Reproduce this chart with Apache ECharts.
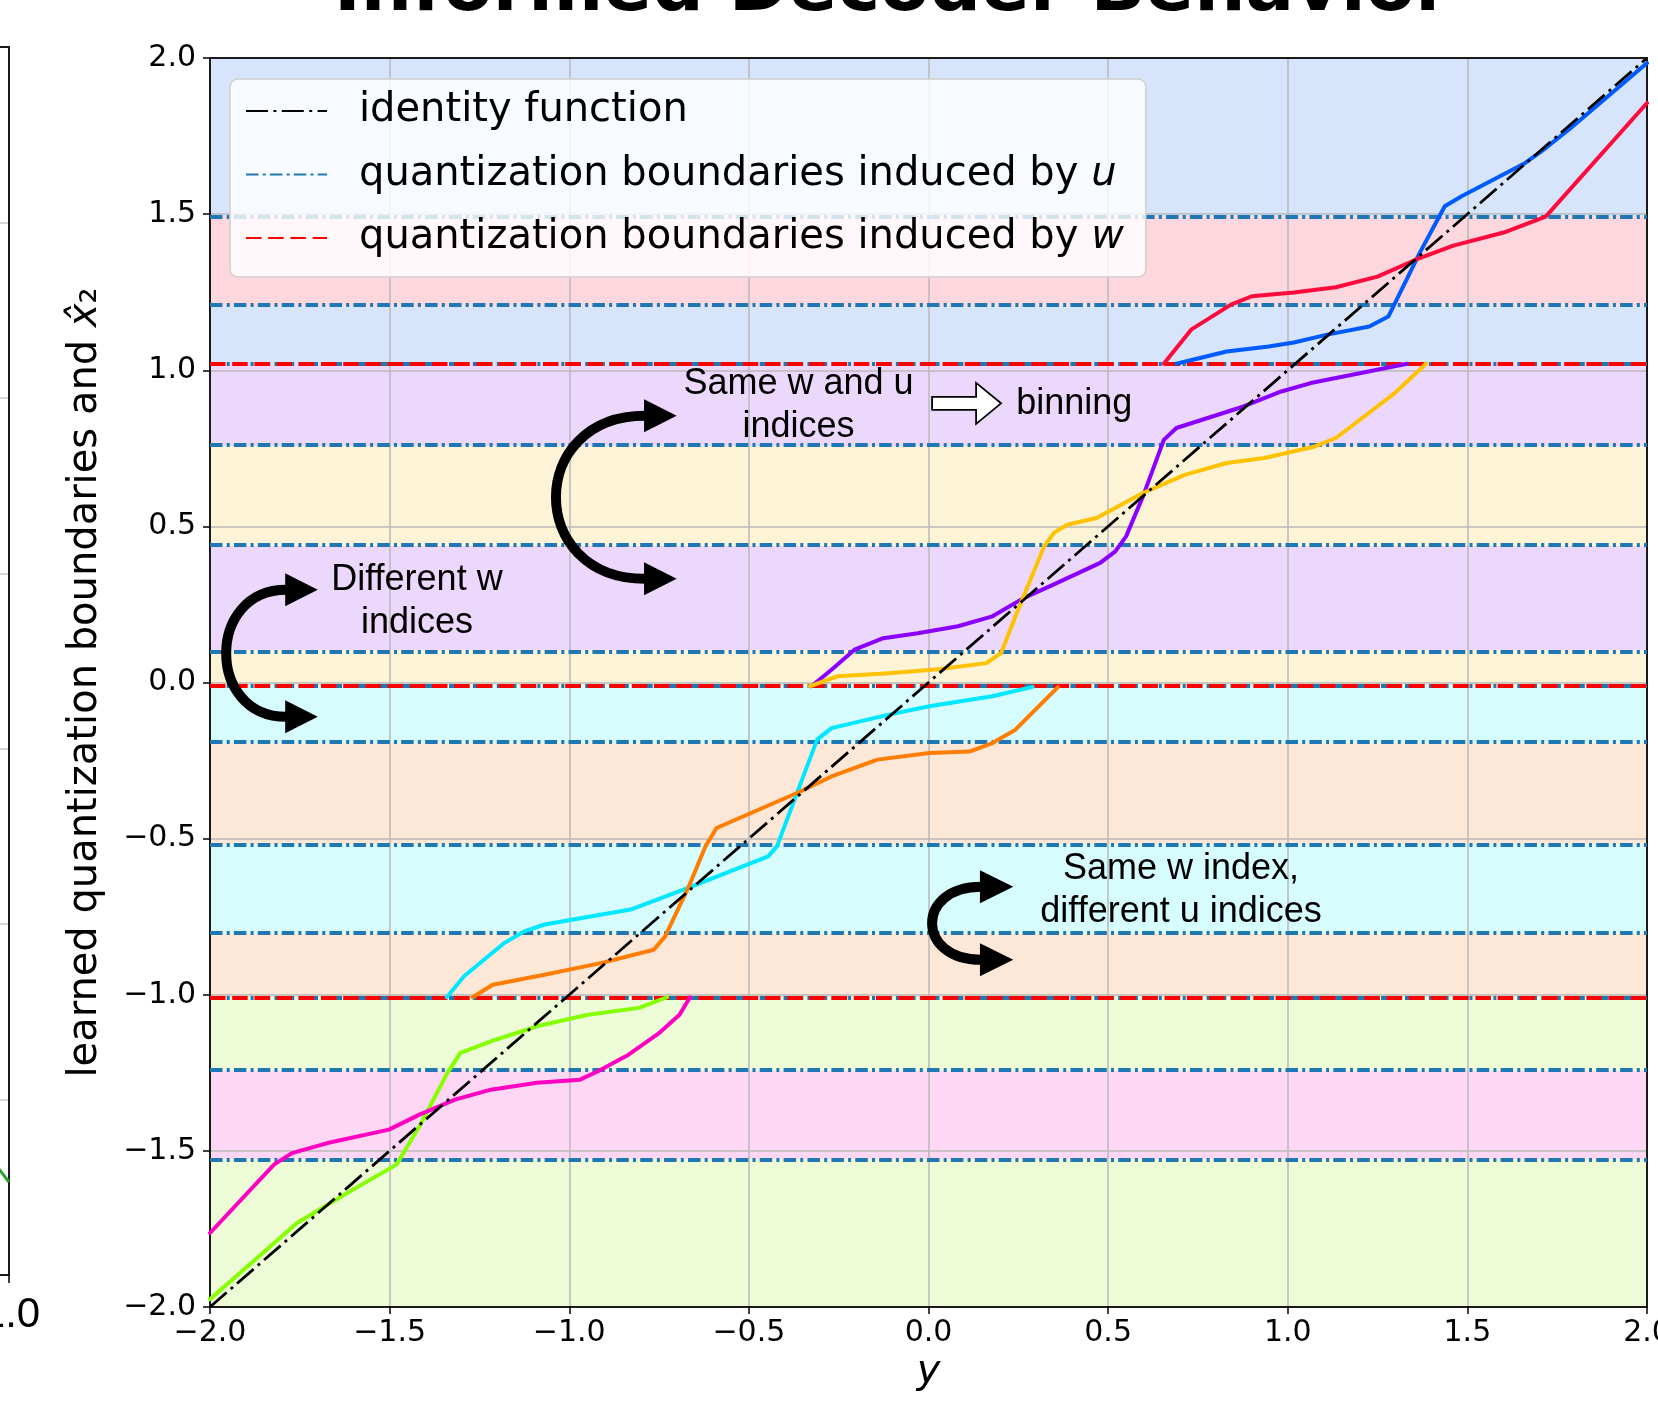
<!DOCTYPE html>
<html><head><meta charset="utf-8">
<script src="https://cdn.jsdelivr.net/npm/echarts@6/dist/echarts.min.js"></script>
<style>html,body{margin:0;padding:0;background:#fff}#c{width:1658px;height:1404px}</style>
</head><body><div id="c"></div>
<script>
// ---------------- data ----------------
const axisMin = -2, axisMax = 2, axisStep = 0.5;
const uBoundaries = [1.494, 1.205, 1.021, 0.756, 0.437, 0.103, -0.014, -0.194, -0.520, -0.803, -1.008, -1.243, -1.528];
const wBoundaries = [1.021, -0.014, -1.008];
const identityPts = [[-2, -2], [2, 2]];

const blueCurve = [[0.69,1.021],[0.83,1.06],[0.947,1.076],[1.017,1.089],[1.11,1.114],[1.227,1.14],[1.28,1.172],[1.367,1.375],[1.437,1.525],[1.484,1.557],[1.66,1.663],[1.706,1.701],[1.788,1.776],[2.0,1.984]];
const redCurve = [[0.655,1.021],[0.731,1.13],[0.842,1.21],[0.9,1.237],[1.017,1.249],[1.134,1.266],[1.25,1.3],[1.356,1.354],[1.461,1.399],[1.601,1.441],[1.718,1.492],[2.0,1.856]];
const purpleCurve = [[-0.326,-0.012],[-0.27,0.041],[-0.206,0.105],[-0.126,0.142],[-0.03,0.158],[0.082,0.18],[0.178,0.212],[0.266,0.271],[0.337,0.308],[0.478,0.383],[0.52,0.42],[0.55,0.468],[0.597,0.596],[0.655,0.777],[0.69,0.815],[0.877,0.884],[0.982,0.932],[1.064,0.959],[1.204,0.991],[1.332,1.021]];
const goldCurve = [[-0.33,-0.012],[-0.254,0.02],[-0.11,0.03],[0.034,0.043],[0.161,0.062],[0.202,0.094],[0.242,0.212],[0.322,0.436],[0.35,0.48],[0.386,0.505],[0.468,0.527],[0.597,0.607],[0.713,0.665],[0.83,0.703],[0.935,0.719],[1.076,0.756],[1.134,0.783],[1.298,0.927],[1.385,1.021]];
const cyanCurve = [[-1.341,-1.008],[-1.293,-0.941],[-1.181,-0.834],[-1.125,-0.797],[-1.069,-0.775],[-0.829,-0.727],[-0.669,-0.658],[-0.446,-0.557],[-0.422,-0.525],[-0.366,-0.354],[-0.31,-0.183],[-0.27,-0.146],[-0.11,-0.103],[0.002,-0.076],[0.178,-0.044],[0.29,-0.014]];
const orangeCurve = [[-1.269,-1.008],[-1.213,-0.968],[-1.069,-0.936],[-0.909,-0.898],[-0.765,-0.856],[-0.733,-0.813],[-0.669,-0.658],[-0.621,-0.525],[-0.59,-0.466],[-0.494,-0.418],[-0.366,-0.354],[-0.27,-0.301],[-0.142,-0.247],[0.002,-0.226],[0.114,-0.221],[0.178,-0.194],[0.242,-0.151],[0.361,-0.014]];
const limeCurve = [[-2.0,-1.975],[-1.758,-1.731],[-1.602,-1.624],[-1.481,-1.544],[-1.417,-1.421],[-1.339,-1.25],[-1.303,-1.186],[-1.218,-1.149],[-1.09,-1.101],[-0.948,-1.064],[-0.806,-1.042],[-0.728,-1.008]];
const magentaCurve = [[-2.0,-1.763],[-1.822,-1.544],[-1.772,-1.507],[-1.673,-1.475],[-1.502,-1.432],[-1.417,-1.384],[-1.318,-1.336],[-1.218,-1.304],[-1.09,-1.282],[-0.97,-1.272],[-0.92,-1.245],[-0.835,-1.192],[-0.749,-1.122],[-0.693,-1.064],[-0.664,-1.008]];

// partial neighbouring panel (cut off at the left edge)
const leftPanelGreen = [[0.98, 0.62], [1.0, 0.53]];

const titleText = 'Informed Decoder Behavior';
const legendNames = ['identity function', 'quantization boundaries induced by u', 'quantization boundaries induced by w'];

// ---------------- styles ----------------
const bandColors = ['#d6e4fc','#fdd7de','#d6e4fc','#ecd8fc','#fdf4d8','#ecd8fc','#fdf4d8','#d6fcfd','#fde8d8','#d6fcfd','#fde8d8','#edfcd6','#fdd7f3','#edfcd6'];
const curveDefs = [
  {d: blueCurve, c: '#005bff'}, {d: redCurve, c: '#ff0a3c'},
  {d: purpleCurve, c: '#8a00ff'}, {d: goldCurve, c: '#ffc200'},
  {d: cyanCurve, c: '#00e8ff'}, {d: orangeCurve, c: '#ff7d00'},
  {d: limeCurve, c: '#86ff00'}, {d: magentaCurve, c: '#ff00c3'}
];
const F = 'DejaVu Sans';
const A = 'Liberation Sans';
const spine = {show: true, onZero: false, lineStyle: {color: '#1a1a1a', width: 2}};
const gridLine = {show: true, lineStyle: {color: '#b8b8b8', width: 1.5}};
const fmt = v => (v < 0 ? '\u2212' : '') + Math.abs(v).toFixed(1);

const edges = [axisMax, ...uBoundaries, axisMin];
const bands = [];
for (let i = 0; i < edges.length - 1; i++) bands.push([edges[i + 1], edges[i]]);

const uStyle = {color: '#1f77b4', width: 3.8, type: [12.5, 4.2, 3, 4.2]};
const wStyle = {color: '#ff0000', width: 4, type: [15.5, 6.7]};
const idStyle = {color: '#000000', width: 2.8, type: [22, 5.4, 3, 5.4]};

const chart = echarts.init(document.getElementById('c'), null, {renderer: 'canvas'});
const option = {
  animation: false,
  backgroundColor: '#ffffff',
  title: {text: titleText, left: 329, top: -50, textStyle: {fontFamily: F, fontWeight: 'bold', fontSize: 72, color: '#000'}},
  grid: [
    {left: 210, right: 11, top: 58, bottom: 97, containLabel: false, outerBoundsMode: 'none'},
    {left: -600, right: 1649, top: 47, bottom: 129, containLabel: false, outerBoundsMode: 'none'}
  ],
  legend: {
    data: legendNames, orient: 'vertical', left: 230, top: 79, z: 10,
    itemWidth: 81, itemHeight: 20, itemGap: 15.5,
    padding: [8, 22, 15, 15],
    backgroundColor: 'rgba(255,255,255,0.8)', borderColor: '#d0d0d0', borderWidth: 1.5, borderRadius: 8,
    selectedMode: false,
    itemStyle: {opacity: 0, borderWidth: 0},
    formatter: n => {
      const last = n.slice(-1);
      if (n.startsWith('quantization')) return '{sp| }' + n.slice(0, -1) + '{i|' + last + '}';
      return '{sp| }' + n;
    },
    textStyle: {fontFamily: F, fontSize: 40, color: '#000', lineHeight: 48,
      rich: {sp: {width: 27, fontSize: 40, lineHeight: 48}, i: {fontFamily: F, fontStyle: 'italic', fontSize: 40, lineHeight: 48, color: '#000'}}}
  },
  xAxis: [
    {type: 'value', gridIndex: 0, min: axisMin, max: axisMax, interval: axisStep, z: 2,
     name: 'y', nameLocation: 'middle', nameGap: 43,
     nameTextStyle: {fontFamily: F, fontStyle: 'italic', fontSize: 40, color: '#000'},
     axisLine: spine, axisTick: {show: true, length: 7, lineStyle: {color: '#000', width: 1.5}},
     axisLabel: {show: true, formatter: fmt, fontFamily: F, fontSize: 30, color: '#000', margin: 11, showMinLabel: true, showMaxLabel: true},
     splitLine: gridLine},
    {type: 'value', gridIndex: 0, position: 'top', min: axisMin, max: axisMax, z: 2,
     axisLine: spine, axisTick: {show: false}, axisLabel: {show: false}, splitLine: {show: false}},
    {type: 'value', gridIndex: 1, min: 0, max: 1, interval: 0.5, z: 2,
     axisLine: spine, axisTick: {show: true, length: 8, lineStyle: {color: '#000', width: 1.5}},
     axisLabel: {show: true, formatter: v => v.toFixed(1), fontFamily: A, fontSize: 42, color: '#000', margin: 19, padding: [0, 0, 0, 4], showMaxLabel: true},
     splitLine: {show: false}},
    {type: 'value', gridIndex: 1, position: 'top', min: 0, max: 1, z: 2,
     axisLine: spine, axisTick: {show: false}, axisLabel: {show: false}, splitLine: {show: false}}
  ],
  yAxis: [
    {type: 'value', gridIndex: 0, min: axisMin, max: axisMax, interval: axisStep, z: 2,
     name: '{n|learned quantization boundaries and }{i|x\u0302}{n|\u2082}', nameLocation: 'middle', nameGap: 104, nameRotate: 90,
     nameTextStyle: {fontFamily: F, fontSize: 40, color: '#000',
       rich: {n: {fontFamily: F, fontSize: 40, color: '#000'}, i: {fontFamily: F, fontStyle: 'italic', fontSize: 40, color: '#000'}}},
     axisLine: spine, axisTick: {show: true, length: 7, lineStyle: {color: '#000', width: 1.5}},
     axisLabel: {show: true, formatter: fmt, fontFamily: F, fontSize: 30, color: '#000', margin: 14, showMinLabel: true, showMaxLabel: true},
     splitLine: gridLine},
    {type: 'value', gridIndex: 0, position: 'right', min: axisMin, max: axisMax, z: 2,
     axisLine: spine, axisTick: {show: false}, axisLabel: {show: false}, splitLine: {show: false}},
    {type: 'value', gridIndex: 1, position: 'right', min: 0, max: 7, interval: 1, z: 2,
     axisLine: spine, axisTick: {show: false}, axisLabel: {show: false},
     splitLine: {show: true, lineStyle: {color: '#c8c8c8', width: 1.5}}}
  ],
  series: [
    {type: 'custom', name: 'bands', xAxisIndex: 0, yAxisIndex: 0, z: 1, silent: true, clip: false,
     data: bands,
     renderItem: (params, api) => {
       const lo = api.value(0), hi = api.value(1);
       const p1 = api.coord([axisMin, hi]);
       const p2 = api.coord([axisMax, lo]);
       return {type: 'rect', shape: {x: p1[0], y: p1[1], width: p2[0] - p1[0], height: p2[1] - p1[1]},
               style: {fill: bandColors[params.dataIndex]}};
     }},
    {type: 'line', name: legendNames[0], xAxisIndex: 0, yAxisIndex: 0, z: 5, data: identityPts,
     symbol: 'none', showSymbol: false, lineStyle: idStyle, itemStyle: {color: '#000'}, silent: true},
    {type: 'line', name: legendNames[1], xAxisIndex: 0, yAxisIndex: 0, z: 3, data: [], symbol: 'none',
     lineStyle: uStyle, itemStyle: {color: '#1f77b4'},
     markLine: {z: 3, silent: true, symbol: ['none', 'none'], label: {show: false}, lineStyle: uStyle,
       emphasis: {disabled: true}, data: uBoundaries.map(v => ({yAxis: v}))}},
    {type: 'line', name: legendNames[2], xAxisIndex: 0, yAxisIndex: 0, z: 3, data: [], symbol: 'none',
     lineStyle: wStyle, itemStyle: {color: '#ff0000'},
     markLine: {z: 3, silent: true, symbol: ['none', 'none'], label: {show: false}, lineStyle: wStyle,
       emphasis: {disabled: true}, data: wBoundaries.map(v => ({yAxis: v}))}},
    ...curveDefs.map(cd => ({type: 'line', xAxisIndex: 0, yAxisIndex: 0, z: 4, data: cd.d, symbol: 'none', silent: true,
      lineStyle: {color: cd.c, width: 4, cap: 'round', join: 'round'}})),
    {type: 'line', xAxisIndex: 2, yAxisIndex: 2, z: 4, data: leftPanelGreen, symbol: 'none', silent: true,
     lineStyle: {color: '#2ca02c', width: 3}}
  ]
};
chart.setOption(option);

// ---------------- annotations (anchored in data coordinates) ----------------
const px = (x, y) => chart.convertToPixel({seriesIndex: 1}, [x, y]);
const notes = [
  {text: 'Same w and u\nindices', at: [-0.362, 0.886], align: 'center'},
  {text: 'binning', at: [0.244, 0.891], align: 'left'},
  {text: 'Different w\nindices', at: [-1.424, 0.259], align: 'center'},
  {text: 'Same w index,\ndifferent u indices', at: [0.703, -0.666], align: 'center'}
];
const curvedArrows = [
  {xBase: -0.789, yTop: 0.854, yBot: 0.332, xLeft: -1.037, xTip: -0.701},
  {xBase: -1.788, yTop: 0.297, yBot: -0.110, xLeft: -1.955, xTip: -1.700},
  {xBase: 0.146, yTop: -0.654, yBot: -0.888, xLeft: 0.010, xTip: 0.236}
];
const blockArrowAt = [0.010, 0.894];

const g = [];
notes.forEach(n => {
  const p = px(n.at[0], n.at[1]);
  g.push({type: 'text', x: p[0], y: p[1], z: 20, silent: true,
    style: {text: n.text, fontFamily: A, fontSize: 36, lineHeight: 43, fill: '#000', align: n.align, verticalAlign: 'middle'}});
});
curvedArrows.forEach(a => {
  const t = px(a.xBase, a.yTop), b = px(a.xBase, a.yBot);
  const l = px(a.xLeft, 0)[0], tip = px(a.xTip, 0)[0];
  const c = (l - 0.25 * t[0]) / 0.75;
  g.push({type: 'bezierCurve', z: 20, silent: true,
    shape: {x1: t[0], y1: t[1], cpx1: c, cpy1: t[1], cpx2: c, cpy2: b[1], x2: b[0], y2: b[1]},
    style: {stroke: '#000', lineWidth: 10, fill: null}});
  const hw = 16.5;
  [t, b].forEach(p => {
    g.push({type: 'polygon', z: 21, silent: true,
      shape: {points: [[tip, p[1]], [p[0] - 1, p[1] - hw], [p[0] - 1, p[1] + hw]]},
      style: {fill: '#000'}});
  });
});
const ba = px(blockArrowAt[0], blockArrowAt[1]);
g.push({type: 'polygon', z: 20, silent: true,
  shape: {points: [[0, -6.5], [44, -6.5], [44, -20.5], [69, 0], [44, 20.5], [44, 6.5], [0, 6.5]].map(q => [ba[0] + q[0], ba[1] + q[1]])},
  style: {fill: '#fff', stroke: '#000', lineWidth: 1.8}});
chart.setOption({graphic: {elements: g}});
</script>
</body></html>
